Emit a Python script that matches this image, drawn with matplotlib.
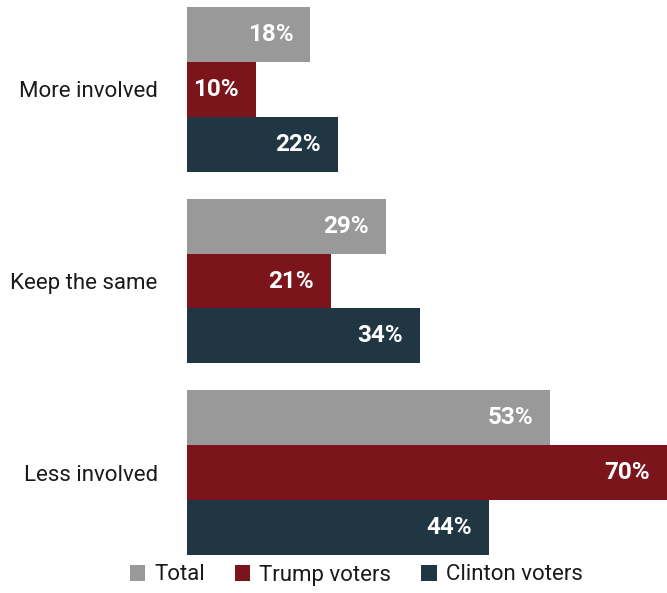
import matplotlib
matplotlib.use("Agg")
import matplotlib.pyplot as plt
from matplotlib.patches import Patch
import numpy as np

categories = ["More involved", "Keep the same", "Less involved"]
series_names = ["Total", "Trump voters", "Clinton voters"]
total = [18, 29, 53]
trump = [10, 21, 70]
clinton = [22, 34, 44]
colors = ["#999999", "#7b151b", "#203643"]

plt.rcParams["font.family"] = ["Roboto", "DejaVu Sans"]

fig = plt.figure(figsize=(6.67, 5.93), dpi=100)
W, H = 667, 593
ax = fig.add_axes([187 / W, 1 - 555 / H, (667 - 187) / W, (555 - 7) / H])

h = 0.2872
y = np.arange(len(categories))
values = [total, trump, clinton]
for i, (vals, col) in enumerate(zip(values, colors)):
    pos = y + (i - 1) * h
    ax.barh(pos, vals, height=h, color=col, edgecolor="none")
    for p, v in zip(pos, vals):
        ax.text(v - 2.5, p, f"{v}%", ha="right", va="center",
                color="white", fontsize=17.5, fontweight="bold")

ax.set_xlim(0, 70)
ax.set_ylim(2 + 1.5 * h, -1.5 * h)
ax.set_yticks(y)
ax.set_yticklabels(categories, fontsize=16, color="#1a1a1a")
ax.tick_params(axis="y", length=0, pad=21)
ax.set_xticks([])
for s in ax.spines.values():
    s.set_visible(False)

handles = [Patch(facecolor=c, edgecolor="none") for c in colors]
fig.legend(handles, series_names, loc="center", bbox_to_anchor=(356 / W, 1 - 575 / H),
           ncol=3, frameon=False, fontsize=16, handlelength=0.7, handleheight=0.7,
           handletextpad=0.4, columnspacing=1.35, labelcolor="#1a1a1a")

fig.savefig("out.png", dpi=100)
